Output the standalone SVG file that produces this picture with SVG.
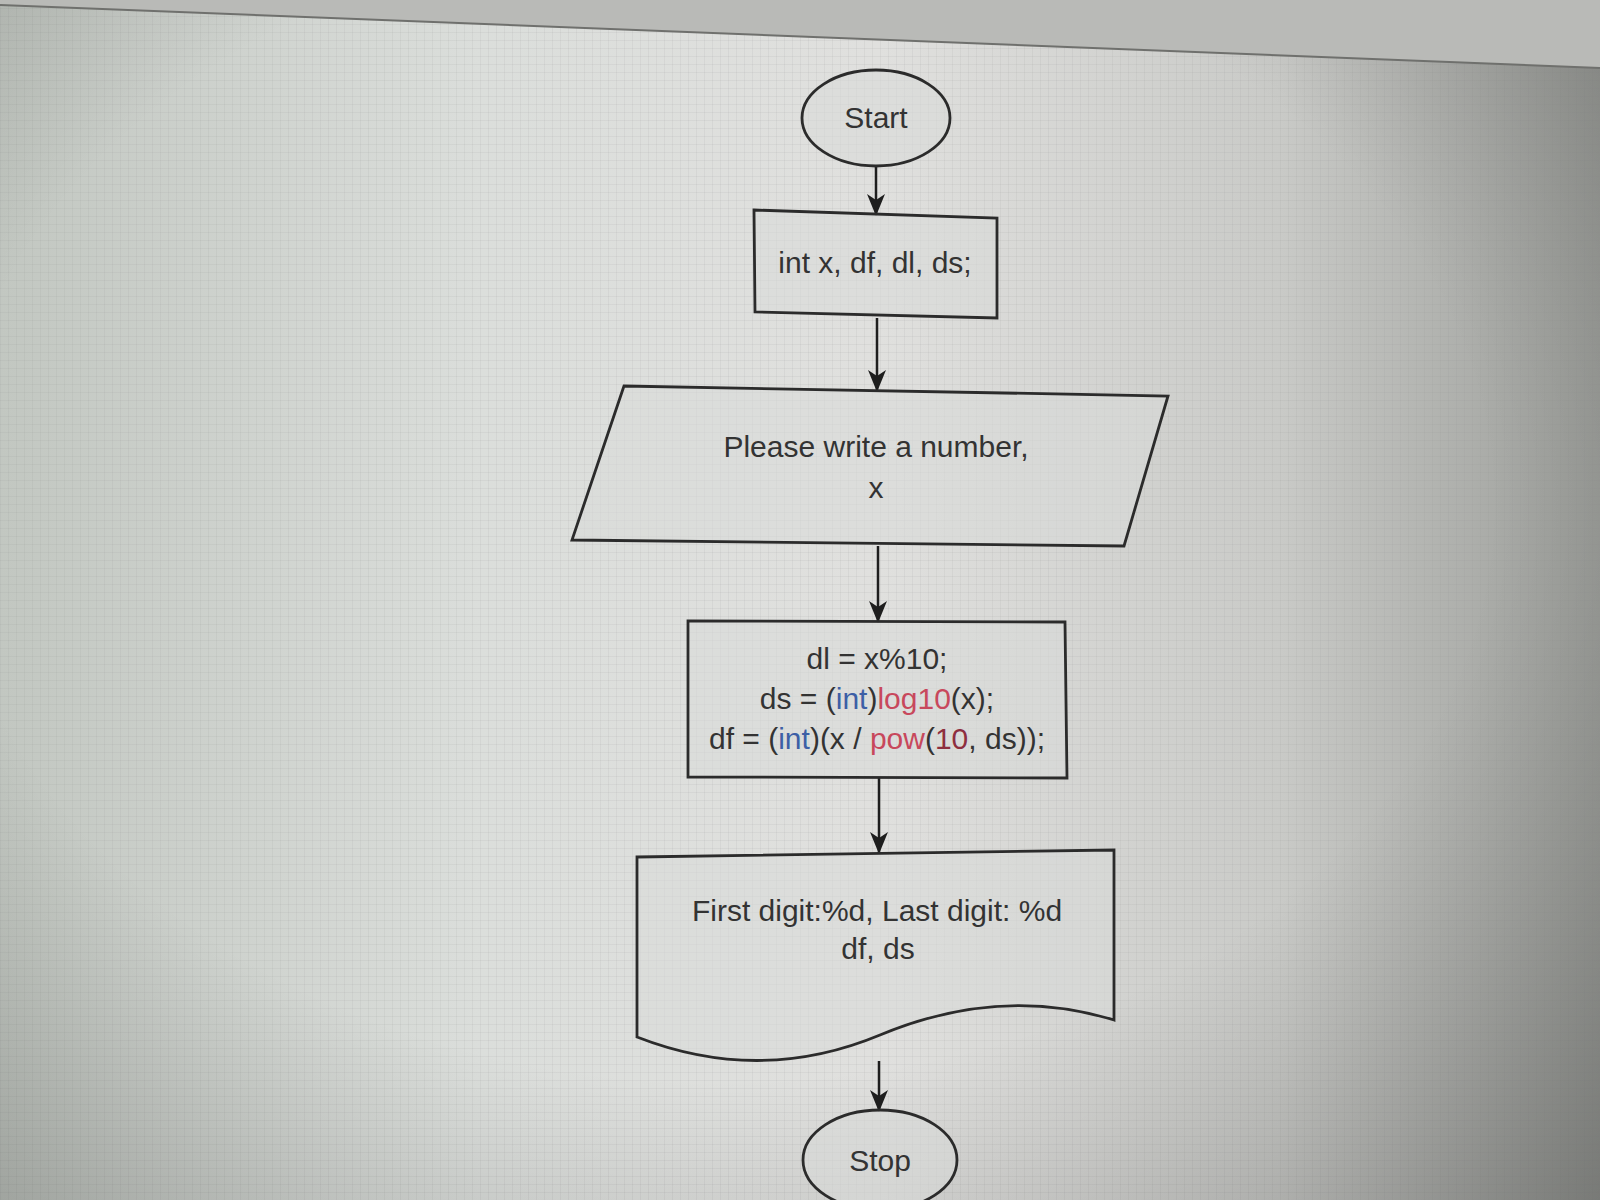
<svg xmlns="http://www.w3.org/2000/svg" width="1600" height="1200" viewBox="0 0 1600 1200">
<defs>
<linearGradient id="bgH" x1="0" y1="0" x2="1" y2="0">
<stop offset="0" stop-color="#c2c7c1"/>
<stop offset="0.3" stop-color="#dbdedb"/>
<stop offset="0.55" stop-color="#e0e0de"/>
<stop offset="0.8" stop-color="#c9cac7"/>
<stop offset="1" stop-color="#9a9c98"/>
</linearGradient>
<radialGradient id="vig" cx="0.45" cy="0.42" r="0.8">
<stop offset="0.6" stop-color="#000" stop-opacity="0"/>
<stop offset="1" stop-color="#000" stop-opacity="0.22"/>
</radialGradient>
<pattern id="grid" width="8" height="8" patternUnits="userSpaceOnUse">
<path d="M0 0.5H8M0.5 0V8" stroke="#8a8a8a" stroke-width="0.6" stroke-opacity="0.18" fill="none"/>
</pattern>
<marker id="arr" viewBox="0 0 22 20" refX="21" refY="10" markerWidth="22" markerHeight="20" markerUnits="userSpaceOnUse" orient="auto">
<path d="M0,1 L22,10 L0,19 L6,10 Z" fill="#1e1e1e"/>
</marker>
<style>
.shape{fill:#d9dad8;fill-opacity:0.55;stroke:#2b2b2b;stroke-width:2.8}
.txt{font-family:"Liberation Sans",Arial,sans-serif;font-size:30px;fill:#333;text-anchor:middle}
.conn{stroke:#1e1e1e;stroke-width:2.5;fill:none;marker-end:url(#arr)}
.kw{fill:#3d5fa6}
.fn{fill:#c8485c}
.num{fill:#8e2f3f}
</style>
</defs>
<rect x="0" y="0" width="1600" height="1200" fill="url(#bgH)"/>
<rect x="0" y="0" width="1600" height="1200" fill="url(#grid)"/>
<rect x="0" y="0" width="1600" height="1200" fill="url(#vig)"/>
<polygon points="0,0 1600,0 1600,68 0,5" fill="#b9bab7"/>
<line x1="0" y1="5" x2="1600" y2="68" stroke="#6f706d" stroke-width="2"/>

<g id="connectors">
<line class="conn" x1="876" y1="166" x2="876" y2="215"/>
<line class="conn" x1="877" y1="318" x2="877" y2="391"/>
<line class="conn" x1="878" y1="546" x2="878" y2="622"/>
<line class="conn" x1="879" y1="778" x2="879" y2="853"/>
<line class="conn" x1="879" y1="1061" x2="879" y2="1111"/>
</g>

<g id="start">
<ellipse class="shape" cx="876" cy="118" rx="74" ry="48"/>
<text class="txt" x="876" y="128">Start</text>
</g>

<g id="declare">
<polygon class="shape" points="754,210 997,218 997,318 755,312"/>
<text class="txt" x="875" y="273">int x, df, dl, ds;</text>
</g>

<g id="input">
<polygon class="shape" points="624,386 1168,396 1124,546 572,540"/>
<text class="txt" x="876" y="457">Please write a number,</text>
<text class="txt" x="876" y="498">x</text>
</g>

<g id="process">
<polygon class="shape" points="688,621 1065,622 1067,778 688,777"/>
<text class="txt" x="877" y="669">dl = x%10;</text>
<text class="txt" x="877" y="709">ds = (<tspan class="kw">int</tspan>)<tspan class="fn">log10</tspan>(x);</text>
<text class="txt" x="877" y="749">df = (<tspan class="kw">int</tspan>)(x / <tspan class="fn">pow</tspan>(<tspan class="num">10</tspan>, ds));</text>
</g>

<g id="output">
<path class="shape" d="M637,857 L1114,850 L1114,1020 Q1000,985 880,1035 Q760,1085 637,1037 Z"/>
<text class="txt" x="877" y="921">First digit:%d, Last digit: %d</text>
<text class="txt" x="878" y="959">df, ds</text>
</g>

<g id="stop">
<ellipse class="shape" cx="880" cy="1160" rx="77" ry="50"/>
<text class="txt" x="880" y="1171">Stop</text>
</g>
</svg>
